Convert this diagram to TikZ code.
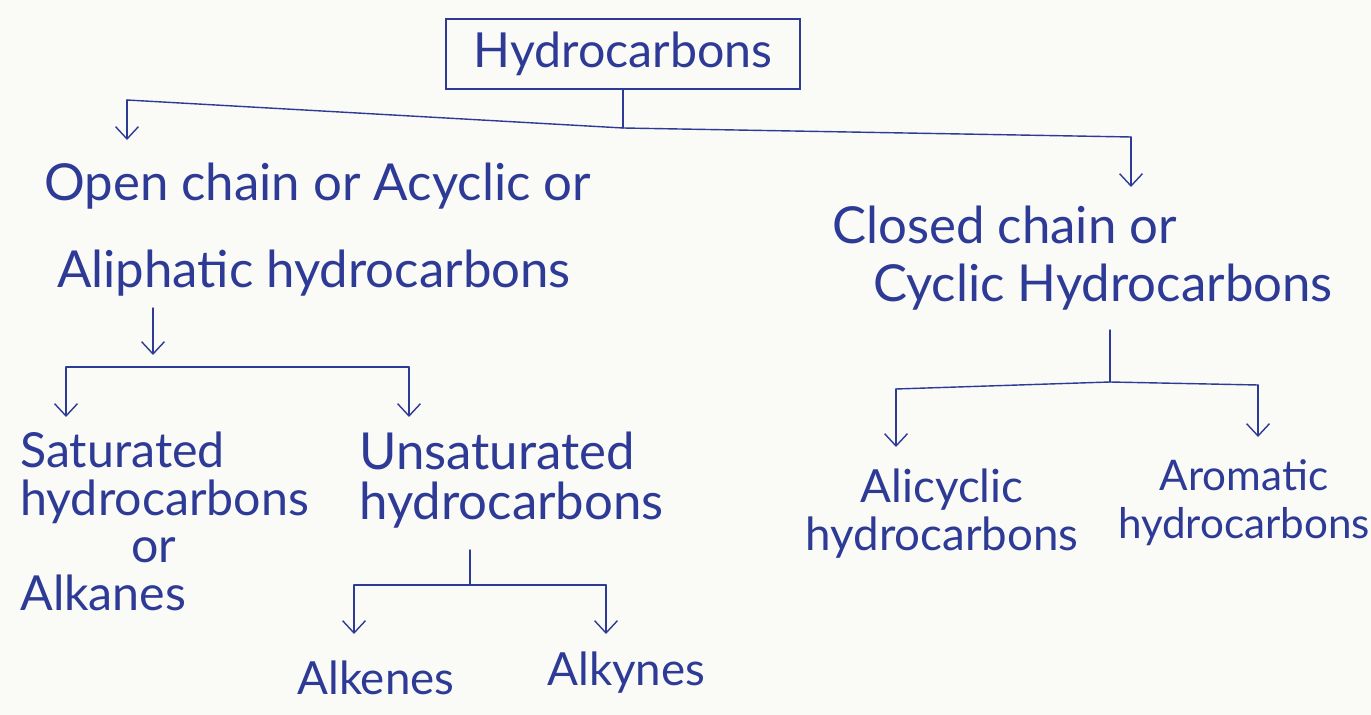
\documentclass[tikz,border=0pt]{standalone}
\usepackage{fontspec}
\setmainfont{Lato}
\usetikzlibrary{arrows.meta}
\definecolor{ink}{RGB}{45,58,150}
\definecolor{paper}{RGB}{250,250,247}
\begin{document}
\begin{tikzpicture}[x=0.02cm,y=-0.02cm,
  lbl/.style={inner sep=0pt, text=ink, font=\fontsize{26}{30}\selectfont},
  boxst/.style={lbl, draw=ink, line width=0.8pt, minimum width=7.08cm, minimum height=1.4cm},
  conn/.style={draw=ink, line width=0.8pt, line cap=round, line join=round},
  arr/.style={conn, -{Straight Barb[length=7pt,width=13pt]}}]
\fill[paper] (0,0) rectangle (1371,715);
\useasboundingbox (0,0) rectangle (1371,715);

% root
\node[boxst, font=\fontsize{27.5}{30}\selectfont] (hc) at (623,54) {Hydrocarbons};

% labels (anchored at the baseline of their last line)
\node[lbl, align=left, anchor=base west, font=\fontsize{29}{50}\selectfont] (open) at (44,288)
  {Open chain or Acyclic or\\\hspace*{0.25em}Aliphatic hydrocarbons};
\node[lbl, align=left, anchor=base west, font=\fontsize{29}{33.5}\selectfont] (closed) at (832,302)
  {Closed chain or\\\hspace*{0.8em}Cyclic Hydrocarbons};
\node[lbl, align=left, anchor=base west, font=\fontsize{27.5}{27}\selectfont] (sat) at (20,610)
  {Saturated\\hydrocarbons\\\hspace*{2.3em}or\\Alkanes};
\node[lbl, align=left, anchor=base west, font=\fontsize{29}{28.5}\selectfont] (unsat) at (359,520)
  {Unsaturated\\hydrocarbons};
\node[lbl, anchor=base west] (alkenes) at (297,694) {Alkenes};
\node[lbl, anchor=base west] (alkynes) at (547,685) {Alkynes};
\node[lbl, align=center, anchor=base, font=\fontsize{26}{27}\selectfont] (alicyc) at (942,550)
  {Alicyclic\\hydrocarbons};
\node[lbl, align=center, anchor=base, font=\fontsize{24}{27}\selectfont] (arom) at (1244,538)
  {Aromatic\\hydrocarbons};

% level 1
\coordinate (j1) at (623,128);
\coordinate (l1) at (127,100);
\coordinate (r1) at (1131,137);
\coordinate (l1t) at (127,140);
\coordinate (r1t) at (1131,187);
\draw[conn] (hc.south) -- (j1);
\draw[conn] (l1) -- (j1) -- (r1);
\draw[arr] (l1) -- (l1t);
\draw[arr] (r1) -- (r1t);

% open chain branch
\coordinate (a0) at (153,308);
\coordinate (a0t) at (153,355);
\draw[arr] (a0) -- (a0t);
\coordinate (l2) at (66,367);
\coordinate (r2) at (409,367);
\coordinate (l2t) at (66,417);
\coordinate (r2t) at (409,417);
\draw[conn] (l2) -- (r2);
\draw[arr] (l2) -- (l2t);
\draw[arr] (r2) -- (r2t);

% unsaturated branch
\coordinate (u0) at (470,550);
\coordinate (j3) at (470,585);
\coordinate (l3) at (354,585);
\coordinate (r3) at (606,585);
\coordinate (l3t) at (354,634);
\coordinate (r3t) at (606,634);
\draw[conn] (u0) -- (j3);
\draw[conn] (l3) -- (r3);
\draw[arr] (l3) -- (l3t);
\draw[arr] (r3) -- (r3t);

% cyclic branch
\coordinate (c0) at (1110,330);
\coordinate (j4) at (1110,382);
\coordinate (l4) at (896,389);
\coordinate (r4) at (1258,385);
\coordinate (l4t) at (896,447);
\coordinate (r4t) at (1258,437);
\draw[conn] (c0) -- (j4);
\draw[conn] (l4) -- (j4) -- (r4);
\draw[arr] (l4) -- (l4t);
\draw[arr] (r4) -- (r4t);
\end{tikzpicture}
\end{document}
